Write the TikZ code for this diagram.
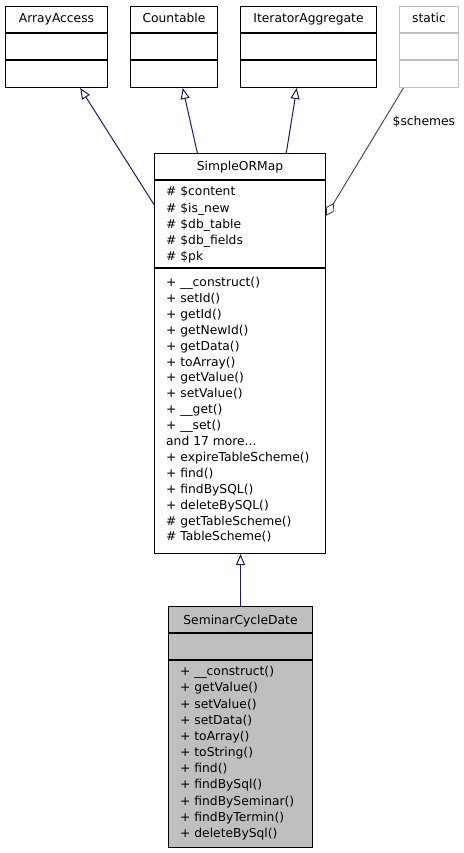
\documentclass[tikz,border=0pt]{standalone}
\usepackage{fontspec}
\setmainfont{DejaVu Sans}
\usetikzlibrary{arrows.meta, calc}
\definecolor{edgeblue}{HTML}{191970}
\definecolor{staticgray}{HTML}{BFBFBF}
\definecolor{aggrgray}{HTML}{404040}

\tikzset{
    classbox/.style={draw=black, line width=1pt, inner sep=0pt, anchor=north west},
    divider/.style={line width=1.4pt},
    member/.style={anchor=base west, inner sep=0pt},
    title/.style={anchor=base, inner sep=0pt},
    inherit/.style={draw=edgeblue, line width=1pt, -{Triangle[length=11pt, width=9pt, fill=white]}},
    aggregate/.style={draw=aggrgray, line width=0.9pt, -{Diamond[length=15pt, width=9pt, fill=white]}}
}
\newcommand{\threedots}{.\kern0pt.\kern0pt.}

\begin{document}
\begin{tikzpicture}[x=1pt, y=-1pt, font=\fontsize{12.3}{15}\selectfont]
    \useasboundingbox (0,0) rectangle (463,853);

    % Interfacce in alto
    \node[classbox, minimum width=102pt, minimum height=81pt] (arrayaccess) at (5,6) {};
    \node[classbox, minimum width=87pt, minimum height=81pt] (countable) at (130,6) {};
    \node[classbox, minimum width=136pt, minimum height=81pt] (iteratoraggregate) at (240,6) {};
    \node[classbox, draw=staticgray, minimum width=59pt, minimum height=81pt] (static) at (399,6) {};
    \foreach \n in {arrayaccess,countable,iteratoraggregate}
        \foreach \y in {33,60}
            \draw[divider] (\n.west |- 0,\y) -- (\n.east |- 0,\y);
    \foreach \y in {33,60}
        \draw[divider, staticgray] (static.west |- 0,\y) -- (static.east |- 0,\y);
    \node[title] (arrayaccess-title) at (arrayaccess.north |- 0,23) {ArrayAccess};
    \node[title] (countable-title) at (countable.north |- 0,23) {Countable};
    \node[title] (iteratoraggregate-title) at (iteratoraggregate.north |- 0,23) {IteratorAggregate};
    \node[title] (static-title) at (static.north |- 0,23) {static};

    % Classe base
    \node[classbox, minimum width=171pt, minimum height=400pt] (simpleormap) at (154,153) {};
    \foreach \y in {180,268}
        \draw[divider] (simpleormap.west |- 0,\y) -- (simpleormap.east |- 0,\y);
    \node[title] (simpleormap-title) at (simpleormap.north |- 0,171) {SimpleORMap};
    \foreach \t [count=\i from 0] in {\# \$content, \# \$is\_new, \# \$db\_table, \# \$db\_fields, \# \$pk}
        \node[member] (sor-attr-\i) at (166,{196+16*\i}) {\t};
    \foreach \t [count=\i from 0] in {+ \_\_construct(), + setId(), + getId(), + getNewId(), + getData(),
        + toArray(), + getValue(), + setValue(), + \_\_get(), + \_\_set(), and 17 more\threedots, + expireTableScheme(),
        + find(), + findBySQL(), + deleteBySQL(), \# getTableScheme(), \# TableScheme()}
        \node[member] (sor-meth-\i) at (166,{286.5+15.9*\i}) {\t};

    % Classe derivata
    \node[classbox, fill=staticgray, minimum width=144pt, minimum height=241pt] (seminarcycledate) at (168,606) {};
    \foreach \y in {633,660}
        \draw[divider] (seminarcycledate.west |- 0,\y) -- (seminarcycledate.east |- 0,\y);
    \node[title] (seminarcycledate-title) at (seminarcycledate.north |- 0,624.5) {SeminarCycleDate};
    \foreach \t [count=\i from 0] in {+ \_\_construct(), + getValue(), + setValue(), + setData(), + toArray(),
        + toString(), + find(), + findBySql(), + findBySeminar(), + findByTermin(), + deleteBySql()}
        \node[member] (scd-meth-\i) at (180,{675.7+16.17*\i}) {\t};

    % Ereditarieta e aggregazione
    \draw[inherit] (simpleormap.120.9) -- (arrayaccess.-60);
    \draw[inherit] (simpleormap.102.3) -- (countable.-78.1);
    \draw[inherit] (simpleormap.77.4) -- (iteratoraggregate.-106.5);
    \draw[inherit] (seminarcycledate.north) -- (seminarcycledate.north |- simpleormap.south);
    \draw[aggregate] (static.-122.2) -- node[pos=0.26, right=9pt, inner sep=0pt] (schemes-label) {\$schemes} (simpleormap.58.8);
\end{tikzpicture}
\end{document}
